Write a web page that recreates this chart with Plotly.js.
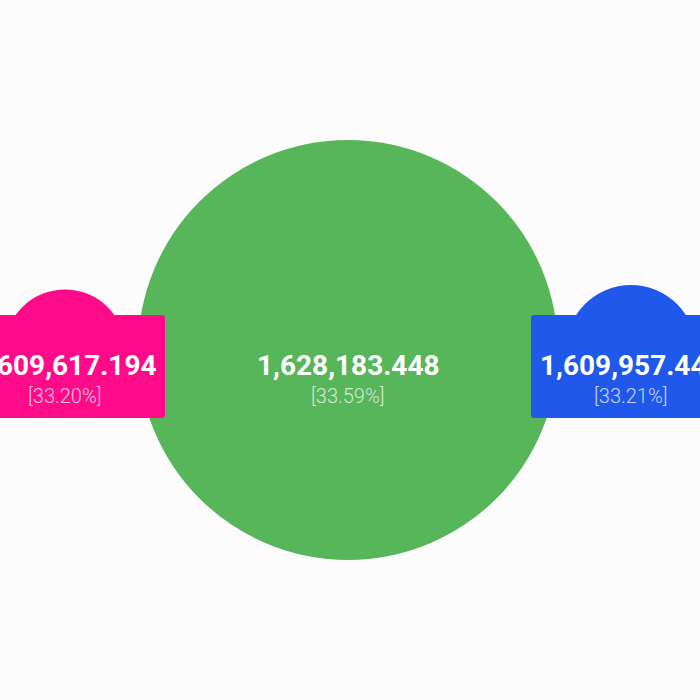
<!DOCTYPE html>
<html>
<head>
<meta charset="utf-8">
<script src="https://cdn.plot.ly/plotly-3.0.1.min.js"></script>
<style>html,body{margin:0;padding:0;background:#fcfcfc;}#chart{width:700px;height:700px;}</style>
</head>
<body>
<div id="chart"></div>
<script>
// ---- data ----
const values = [1609617.194, 1628183.448, 1609957.443];
const percents = [33.20, 33.59, 33.21];
const slots = [0, 1, 2];

// ---- style ----
const colors = ['#FF0B8A', '#57B55A', '#1F58EB'];
const diameters = [121, 420, 130];

function fmt(v) {
  return v.toLocaleString('en-US', {minimumFractionDigits: 3, maximumFractionDigits: 3});
}

const trace = {
  type: 'scatter', mode: 'markers',
  x: slots, y: slots.map(() => 0),
  marker: {size: diameters, color: colors, opacity: 1, line: {width: 0}},
  hoverinfo: 'skip', cliponaxis: false
};

function roundRect(x0, x1, y0, y1, r) {
  return `M${x0 + r},${y1} L${x1 - r},${y1} Q${x1},${y1} ${x1},${y1 - r} L${x1},${y0 + r} Q${x1},${y0} ${x1 - r},${y0} L${x0 + r},${y0} Q${x0},${y0} ${x0},${y0 + r} L${x0},${y1 - r} Q${x0},${y1} ${x0 + r},${y1} Z`;
}

const shapes = slots.map((s, i) => ({
  type: 'path', layer: 'above',
  xref: 'x', yref: 'y', xsizemode: 'pixel', ysizemode: 'pixel',
  xanchor: s, yanchor: 0,
  path: roundRect(-100, 100, -68, 35, 3),
  fillcolor: colors[i], line: {width: 0}
}));

const annotations = [];
slots.forEach((s, i) => {
  annotations.push({
    x: s, y: 0, xref: 'x', yref: 'y', showarrow: false,
    text: fmt(values[i]), yanchor: 'middle', yshift: -15,
    font: {family: 'Roboto', size: 28, color: '#ffffff', weight: 700}
  });
  annotations.push({
    x: s, y: 0, xref: 'x', yref: 'y', showarrow: false,
    text: '[' + percents[i].toFixed(2) + '%]', yanchor: 'middle', yshift: -46,
    font: {family: 'Roboto', size: 20, color: 'rgba(255,255,255,0.75)', weight: 300}
  });
});

const layout = {
  width: 700, height: 700,
  margin: {l: 0, r: 0, t: 0, b: 0},
  paper_bgcolor: '#fcfcfc', plot_bgcolor: '#fcfcfc',
  showlegend: false,
  xaxis: {range: [-0.2297, 2.2438], visible: false, fixedrange: true},
  yaxis: {range: [-1, 1], visible: false, fixedrange: true},
  shapes: shapes,
  annotations: annotations
};

Plotly.newPlot('chart', [trace], layout, {staticPlot: true, displayModeBar: false});
</script>
</body>
</html>
